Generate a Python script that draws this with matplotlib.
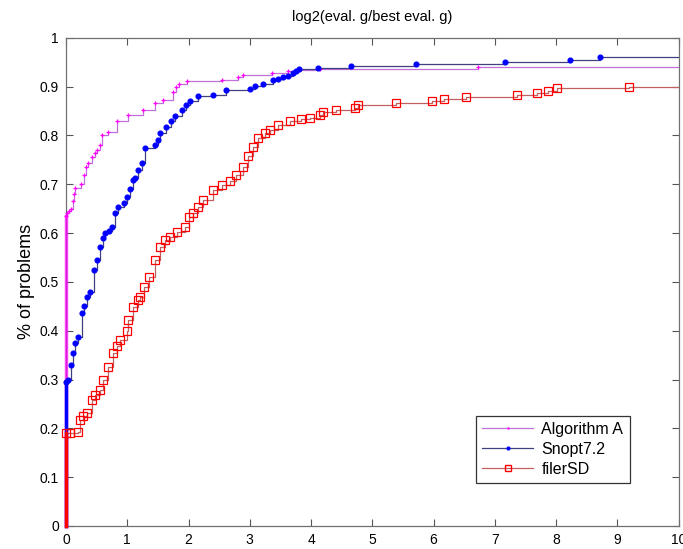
import matplotlib
matplotlib.use("Agg")
import matplotlib.pyplot as plt

plt.rcParams['font.family'] = ['Liberation Sans', 'DejaVu Sans']

# performance profile breakpoints (x = log2 ratio, y = fraction)
alg_x = [0, 0.01, 0.05, 0.09, 0.11, 0.13, 0.15, 0.25, 0.29, 0.33, 0.36, 0.42, 0.47, 0.50,
         0.55, 0.58, 0.69, 0.83, 1.01, 1.26, 1.45, 1.59, 1.75, 1.80, 1.85, 1.97, 2.54,
         2.81, 2.89, 3.36, 3.63, 3.79, 4.15, 6.73]
alg_y = [0.635, 0.641, 0.645, 0.65, 0.665, 0.68, 0.692, 0.70, 0.72, 0.735, 0.744, 0.755,
         0.765, 0.77, 0.78, 0.80, 0.808, 0.829, 0.842, 0.852, 0.866, 0.873, 0.89, 0.899,
         0.905, 0.911, 0.914, 0.919, 0.924, 0.928, 0.933, 0.935, 0.936, 0.940]

snopt_x = [0, 0.04, 0.08, 0.12, 0.15, 0.20, 0.26, 0.30, 0.34, 0.39, 0.45, 0.50, 0.55, 0.60,
           0.64, 0.70, 0.745, 0.80, 0.85, 0.94, 0.99, 1.05, 1.10, 1.13, 1.18, 1.24, 1.29,
           1.45, 1.50, 1.53, 1.64, 1.71, 1.78, 1.89, 1.96, 2.03, 2.16, 2.40, 2.62, 3.0,
           3.08, 3.22, 3.38, 3.46, 3.54, 3.62, 3.70, 3.76, 3.81, 4.12, 4.65, 5.71, 7.17,
           8.22, 8.72]
snopt_y = [0.295, 0.30, 0.33, 0.355, 0.375, 0.388, 0.436, 0.45, 0.47, 0.48, 0.525, 0.545,
           0.572, 0.59, 0.60, 0.605, 0.613, 0.641, 0.654, 0.661, 0.675, 0.69, 0.709, 0.712,
           0.73, 0.743, 0.774, 0.781, 0.79, 0.805, 0.818, 0.83, 0.839, 0.852, 0.862, 0.87,
           0.88, 0.882, 0.893, 0.895, 0.902, 0.906, 0.913, 0.916, 0.919, 0.922, 0.928,
           0.933, 0.936, 0.939, 0.943, 0.947, 0.951, 0.955, 0.960]

filer_x = [0, 0.065, 0.20, 0.23, 0.28, 0.34, 0.42, 0.48, 0.55, 0.61, 0.69, 0.77, 0.83, 0.88,
           0.99, 1.02, 1.10, 1.18, 1.21, 1.28, 1.35, 1.45, 1.53, 1.62, 1.70, 1.81, 1.94,
           2.0, 2.08, 2.16, 2.24, 2.40, 2.54, 2.67, 2.78, 2.89, 2.97, 3.05, 3.14, 3.25,
           3.33, 3.46, 3.65, 3.84, 3.98, 4.15, 4.20, 4.41, 4.72, 4.77, 5.39, 5.97, 6.17,
           6.53, 7.36, 7.69, 7.87, 8.02, 9.19]
filer_y = [0.19, 0.19, 0.193, 0.217, 0.225, 0.231, 0.258, 0.268, 0.279, 0.299, 0.326, 0.354,
           0.368, 0.381, 0.40, 0.422, 0.449, 0.463, 0.47, 0.49, 0.511, 0.545, 0.572, 0.585,
           0.593, 0.603, 0.613, 0.634, 0.641, 0.654, 0.668, 0.689, 0.699, 0.706, 0.719,
           0.736, 0.757, 0.777, 0.795, 0.805, 0.811, 0.822, 0.829, 0.834, 0.835, 0.842,
           0.849, 0.852, 0.856, 0.863, 0.866, 0.871, 0.874, 0.878, 0.883, 0.887, 0.892,
           0.897, 0.900]

names = ['Algorithm A', 'Snopt7.2', 'filerSD']
xmax = 10

fig = plt.figure(figsize=(6.83, 5.49), dpi=100)
ax = fig.add_axes([0.0966, 0.042, 0.897, 0.889])

series = [
    (alg_x, alg_y, '#c070d8', '#ff00ff', '+', 3.5, 'none', 0.7),
    (snopt_x, snopt_y, '#404080', '#0000ff', 'o', 3.5, None, 1.0),
    (filer_x, filer_y, '#c06060', '#ff0000', 's', 5.5, 'none', 1.0),
]

for (xs, ys, lc, mc, mk, ms, mfc, colalpha), name in zip(series, names):
    # step line, extended to the right edge
    ax.plot([0] + xs + [xmax], [0] + ys + [ys[-1]], drawstyle='steps-post',
            color=lc, lw=0.9, zorder=2)
    # dense stack of problems solved at ratio 0
    ax.plot([0, 0], [0, ys[0]], color=mc, lw=2.5, alpha=colalpha, clip_on=False, zorder=3)
    ax.plot(xs, ys, ls='none', marker=mk, ms=ms, mec=mc,
            mfc=(mc if mfc is None else mfc), mew=0.9, clip_on=False, zorder=3)
    ax.plot([], [], color=lc, lw=0.9, marker=mk, ms=ms - 1.5, mec=mc,
            mfc=(mc if mfc is None else mfc), label=name)

ax.set_xlim(0, xmax)
ax.set_ylim(0, 1)
ax.set_xticks(range(0, 11))
ax.set_yticks([i / 10 for i in range(11)])
ax.set_yticklabels(['0'] + ['%.1f' % (i / 10) for i in range(1, 10)] + ['1'])
ax.tick_params(direction='in', top=True, right=True, length=5, labelsize=10,
               color='#555555', pad=5)
for s in ax.spines.values():
    s.set_color('#707070')
    s.set_linewidth(0.9)

ax.set_title('log2(eval. g/best eval. g)', fontsize=10.5, pad=12)
ax.set_ylabel('% of problems', fontsize=13, labelpad=3)

leg = ax.legend(loc='lower right', bbox_to_anchor=(0.92, 0.088), fancybox=False,
                edgecolor='#333333', fontsize=11.5, handlelength=3.2, borderpad=0.4,
                labelspacing=0.3, handletextpad=0.5, framealpha=1, borderaxespad=0)
leg.get_frame().set_linewidth(0.9)

fig.savefig('out.png', dpi=100)
